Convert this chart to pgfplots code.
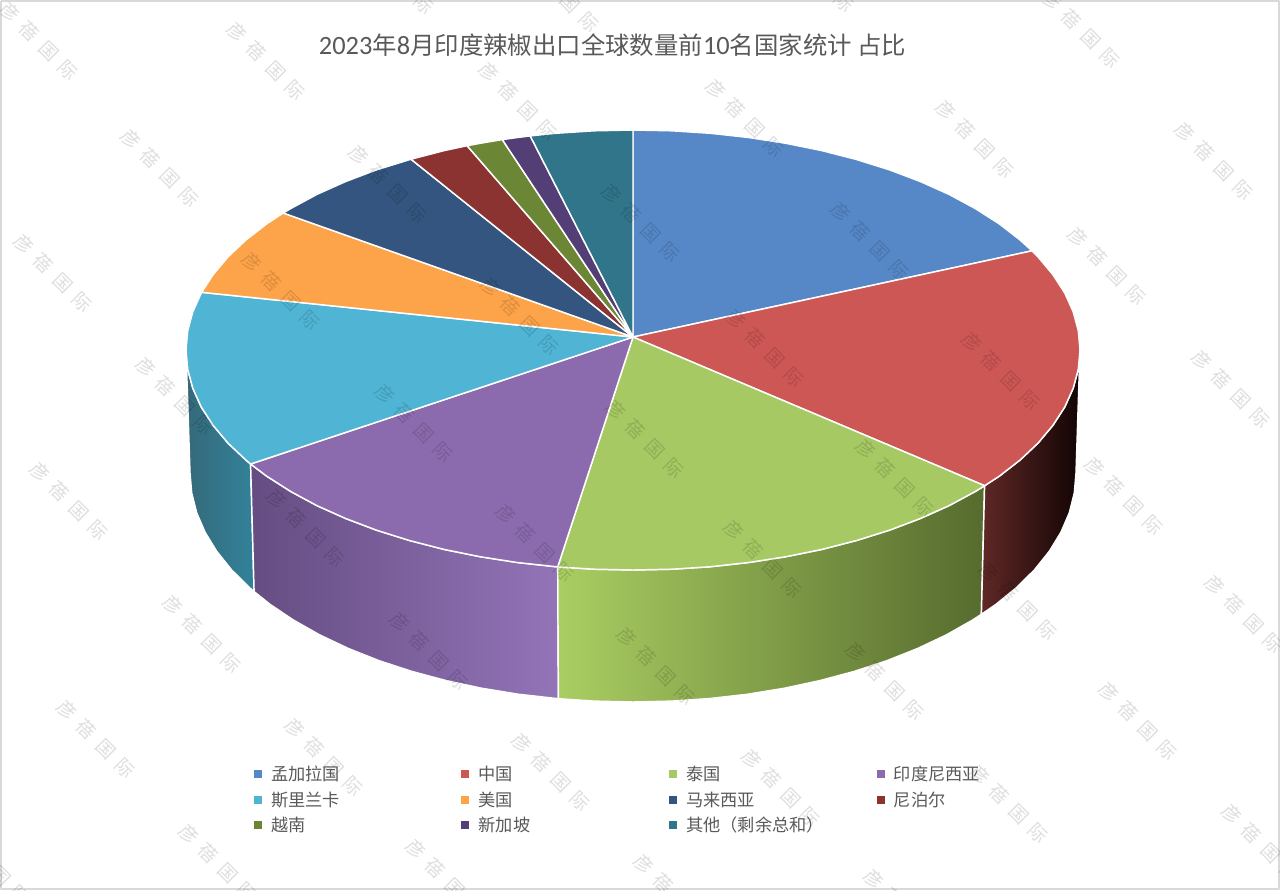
\documentclass[border=0pt]{standalone}
\usepackage{fontspec}
\usepackage{pgfplots}
\pgfplotsset{compat=1.18}
\setmainfont{Noto Sans CJK SC}
\newfontfamily\carlito{Carlito}
\definecolor{cBlue}{HTML}{5688C8}
\definecolor{cRed}{HTML}{CD5755}
\definecolor{cGreen}{HTML}{A6C963}
\definecolor{cPurple}{HTML}{8B6BAE}
\definecolor{cCyan}{HTML}{50B4D4}
\definecolor{cOrange}{HTML}{FDA349}
\definecolor{cNavy}{HTML}{34557F}
\definecolor{cMaroon}{HTML}{8A3331}
\definecolor{cOlive}{HTML}{6B8635}
\definecolor{cViolet}{HTML}{533F75}
\definecolor{cTeal}{HTML}{31758A}
\definecolor{txt}{HTML}{595959}
\definecolor{wTealL}{HTML}{35697A}
\definecolor{wTealR}{HTML}{32829A}
\definecolor{wPurL}{HTML}{654D82}
\definecolor{wPurR}{HTML}{9374B8}
\definecolor{wGreL}{HTML}{AACE62}
\definecolor{wGreM}{HTML}{8AA852}
\definecolor{wGreR}{HTML}{566B2E}
\definecolor{wRedL}{HTML}{5F2826}
\definecolor{wRedR}{HTML}{120404}
\newcommand\wm[2]{\node[rotate=-45,xshift=2.2pt,yshift=1pt,black,opacity=0.13,inner sep=0pt,font=\fontsize{14}{15}\selectfont] at (axis cs:#1,#2) {彦\hspace{6.5pt}蓓\hspace{6.5pt}国\hspace{6.5pt}际};}
\newcommand\lab[1]{\makebox[135.7pt][l]{#1}}
\begin{document}
\begin{tikzpicture}
\path[use as bounding box] (0,0) rectangle (960pt,667.5pt);
\begin{axis}[
  at={(0,0)},anchor=south west,
  scale only axis,width=960pt,height=667.5pt,
  xmin=0,xmax=1280,ymin=0,ymax=890,y dir=reverse,
  hide axis,clip=false,
  every axis plot/.append style={line join=round},
  legend columns=4,
  legend cell align=left,
  legend style={at={(0.198,0.1395)},anchor=north west,draw=none,fill=none,inner sep=0pt,
    row sep=6.7pt,text=txt,font=\fontsize{12.9}{15}\selectfont,
    nodes={inner xsep=7pt,inner ysep=0pt}},
  legend image code/.code={\path[#1,draw=none] (0pt,-3pt) rectangle (6pt,3pt);},
]
% outer frame
\addplot[forget plot,draw=black!15,line width=1.5pt] coordinates {(1,1) (1279,1) (1279,889) (1,889) (1,1)};
% side walls
\addplot[forget plot,draw=white,line width=1.1pt,shading=axis,left color=wTealL,right color=wTealR] coordinates {
(250.6,464) (245.9,460) (227.9,443) (213,425.2) (201.2,406.9) (192.8,388.2) (187.7,369.2) (186,350)
(190,473) (191.7,493) (196.7,512.8) (205.1,532.3) (216.7,551.3) (231.5,569.8) (249.4,587.5) (254.1,591.6) (250.6,464)};
\addplot[forget plot,draw=white,line width=1.1pt,shading=axis,left color=wPurL,right color=wPurR] coordinates {
(557.7,566.9) (517.3,562.5) (480.1,556.7) (444.1,549.4) (409.5,540.5) (376.6,530.2) (345.7,518.5) (316.9,505.6) (290.6,491.4) (266.8,476.2) (250.6,464)
(254.1,591.6) (270.1,604.4) (293.7,620.2) (319.7,634.9) (348.2,648.4) (378.9,660.6) (411.5,671.3) (445.8,680.5) (481.5,688.2) (518.3,694.2) (558.4,698.7) (557.7,566.9)};
\addplot[forget plot,draw=white,line width=1.1pt,shading=axis,left color=wGreL,middle color=wGreM,right color=wGreR] coordinates {
(984.6,485.7) (975.4,491.4) (949.1,505.6) (920.3,518.5) (889.4,530.2) (856.5,540.5) (821.9,549.4) (785.9,556.7) (748.7,562.5) (710.6,566.7) (672,569.2) (633,570) (594,569.2) (557.7,566.9)
(558.4,698.7) (594.4,701.1) (633,702) (671.6,701.1) (709.9,698.5) (747.7,694.2) (784.5,688.2) (820.2,680.5) (854.5,671.3) (887.1,660.6) (917.8,648.4) (946.3,634.9) (972.3,620.2) (981.4,614.3) (984.6,485.7)};
\addplot[forget plot,draw=white,line width=1.1pt,shading=axis,left color=wRedL,right color=wRedR] coordinates {
(984.6,485.7) (999.2,476.2) (1020.1,460) (1038.1,443) (1053,425.2) (1064.8,406.9) (1073.2,388.2) (1078.3,369.2) (1080,350)
(1076,473) (1074.3,493) (1069.3,512.8) (1060.9,532.3) (1049.3,551.3) (1034.5,569.8) (1016.6,587.5) (995.9,604.4) (981.4,614.3) (984.6,485.7)};
% top faces
\addplot[fill=cBlue,draw=white,line width=1.1pt] coordinates {
(633,337) (633,130) (672,130.8) (710.6,133.3) (748.7,137.5) (785.9,143.3) (821.9,150.6) (856.5,159.5) (889.4,169.8) (920.3,181.5) (949.1,194.4) (975.4,208.6) (999.2,223.8) (1020.1,240) (1032,250.8) (633,337)};
\addlegendentry{\lab{孟加拉国}}
\addplot[fill=cRed,draw=white,line width=1.1pt] coordinates {
(633,337) (1032,250.8) (1038.1,257) (1053,274.8) (1064.8,293.1) (1073.2,311.8) (1078.3,330.8) (1080,350) (1078.3,369.2) (1073.2,388.2) (1064.8,406.9) (1053,425.2) (1038.1,443) (1020.1,460) (999.2,476.2) (984.6,485.7) (633,337)};
\addlegendentry{\lab{中国}}
\addplot[fill=cGreen,draw=white,line width=1.1pt] coordinates {
(633,337) (984.6,485.7) (975.4,491.4) (949.1,505.6) (920.3,518.5) (889.4,530.2) (856.5,540.5) (821.9,549.4) (785.9,556.7) (748.7,562.5) (710.6,566.7) (672,569.2) (633,570) (594,569.2) (557.7,566.9) (633,337)};
\addlegendentry{\lab{泰国}}
\addplot[fill=cPurple,draw=white,line width=1.1pt] coordinates {
(633,337) (557.7,566.9) (517.3,562.5) (480.1,556.7) (444.1,549.4) (409.5,540.5) (376.6,530.2) (345.7,518.5) (316.9,505.6) (290.6,491.4) (266.8,476.2) (250.6,464) (633,337)};
\addlegendentry{\lab{印度尼西亚}}
\addplot[fill=cCyan,draw=white,line width=1.1pt] coordinates {
(633,337) (250.6,464) (245.9,460) (227.9,443) (213,425.2) (201.2,406.9) (192.8,388.2) (187.7,369.2) (186,350) (187.7,330.8) (192.8,311.8) (201.6,292.3) (633,337)};
\addlegendentry{\lab{斯里兰卡}}
\addplot[fill=cOrange,draw=white,line width=1.1pt] coordinates {
(633,337) (201.6,292.3) (213,274.8) (227.9,257) (245.9,240) (266.8,223.8) (283.2,213) (633,337)};
\addlegendentry{\lab{美国}}
\addplot[fill=cNavy,draw=white,line width=1.1pt] coordinates {
(633,337) (283.2,213) (290.6,208.6) (316.9,194.4) (345.7,181.5) (376.6,169.8) (411,159.2) (633,337)};
\addlegendentry{\lab{马来西亚}}
\addplot[fill=cMaroon,draw=white,line width=1.1pt] coordinates {
(633,337) (411,159.2) (444.1,150.6) (467.1,145.7) (633,337)};
\addlegendentry{\lab{尼泊尔}}
\addplot[fill=cOlive,draw=white,line width=1.1pt] coordinates {
(633,337) (467.1,145.7) (480.1,143.3) (502.3,139.6) (633,337)};
\addlegendentry{\lab{越南}}
\addplot[fill=cViolet,draw=white,line width=1.1pt] coordinates {
(633,337) (502.3,139.6) (517.3,137.5) (530.2,135.9) (633,337)};
\addlegendentry{\lab{新加坡}}
\addplot[fill=cTeal,draw=white,line width=1.1pt] coordinates {
(633,337) (530.2,135.9) (555.4,133.3) (594,130.8) (633,130) (633,337)};
\addlegendentry{\lab{其他（剩余总和）}}
% title
\node[text=txt,inner sep=0pt,font=\fontsize{18.3}{22}\selectfont] at (axis cs:612.5,45) {{\carlito\fontsize{19.8}{22}\selectfont 2023}年{\carlito\fontsize{19.8}{22}\selectfont 8}月印度辣椒出口全球数量前{\carlito\fontsize{19.8}{22}\selectfont 10}名国家统计 占比};
% watermark
\wm{36}{40}\wm{263}{60}\wm{157}{167}\wm{385}{183}\wm{515}{100}\wm{742}{117}\wm{972}{138}\wm{1211}{160}
\wm{638}{222}\wm{867}{240}\wm{1104}{265}\wm{50}{272}\wm{278}{290}\wm{517}{315}\wm{762}{347}\wm{998}{370}\wm{1228}{388}
\wm{172}{395}\wm{411}{422}\wm{642}{438}\wm{892}{477}\wm{1121}{495}\wm{66}{500}\wm{303}{527}\wm{532}{542}\wm{760}{558}
\wm{1015}{600}\wm{1241}{613}\wm{199}{633}\wm{426}{650}\wm{653}{665}\wm{882}{680}\wm{1135}{720}\wm{93}{738}\wm{321}{756}
\wm{548}{771}\wm{778}{787}\wm{1006}{803}\wm{1258}{842}\wm{215}{862}\wm{442}{877}\wm{670}{892}\wm{900}{907}\wm{-12}{865}
\wm{392}{-26}\wm{557}{-8}\wm{812}{-28}\wm{1078}{28}
\end{axis}
\end{tikzpicture}
\end{document}
